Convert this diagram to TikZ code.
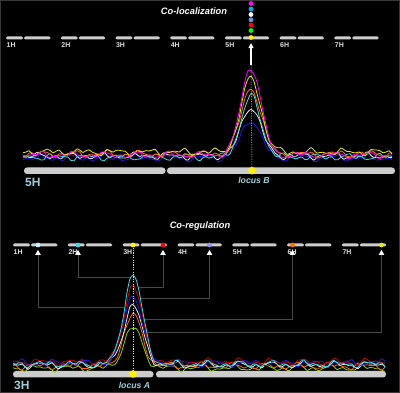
\documentclass[tikz,border=0pt]{standalone}
\usepackage{fontspec}
\setmainfont{Liberation Sans}
\usepackage{tikz}
\usetikzlibrary{shapes.geometric, arrows.meta, positioning, calc}
\definecolor{framegray}{RGB}{55,55,55}
\definecolor{chromgray}{RGB}{205,205,205}
\definecolor{locuscyan}{RGB}{160,205,215}
\definecolor{linkgray}{RGB}{72,72,72}
\definecolor{trmagenta}{RGB}{255,0,255}
\definecolor{tryellow}{RGB}{225,235,20}
\definecolor{trorange}{RGB}{255,110,0}
\definecolor{trcyan}{RGB}{60,220,230}
\definecolor{trwhite}{RGB}{235,235,235}
\definecolor{trblue}{RGB}{40,20,235}
\definecolor{trred}{RGB}{200,0,0}
\definecolor{trgreen}{RGB}{140,210,0}
\definecolor{dotblue}{RGB}{100,150,240}
\definecolor{dotlav}{RGB}{145,145,245}
\definecolor{dotpale}{RGB}{195,240,255}

\begin{document}
\begin{tikzpicture}[x=1pt, y=-1pt,
    chrom/.style={fill=chromgray, rounded corners=1.4pt},
    bigchrom/.style={fill=chromgray, rounded corners=3pt},
    trace/.style={line width=0.8pt, smooth, tension=0.5},
    dot/.style={circle, inner sep=0pt, minimum size=4.8pt},
    locus/.style={circle, inner sep=0pt, minimum size=7.5pt, fill=yellow},
    tri/.style={regular polygon, regular polygon sides=3, fill=white, inner sep=0pt, minimum size=6.5pt},
    link/.style={draw=linkgray, line width=0.8pt},
    guide/.style={white!85!black, line width=0.5pt, dash pattern=on 1.2pt off 1.2pt},
    chromlabel/.style={font=\bfseries\fontsize{7}{8}\selectfont, text=white!87!black, anchor=north west, inner sep=0pt},
    biglabel/.style={font=\bfseries\fontsize{12}{14}\selectfont, text=locuscyan, anchor=north west, inner sep=0pt},
    locuslabel/.style={font=\bfseries\itshape\fontsize{8.7}{10}\selectfont, text=locuscyan, anchor=north, inner sep=0pt},
    title/.style={font=\bfseries\itshape\fontsize{9.3}{11}\selectfont, text=white}
]

    % 1. BACKGROUND
    \useasboundingbox (0,0) rectangle (400,393);
    \draw[framegray, fill=black, line width=1pt] (0.5,0.5) rectangle (399.5,392.5);
    \pgfmathsetseed{11}

    % 2. CO-LOCALIZATION (top half)
    \node[title] (titleA) at (194,11.5) {Co-localization};

    \foreach \i in {1,...,7} {
        \pgfmathsetmacro{\xs}{6+(\i-1)*54.7}
        \fill[chrom] (\xs,36.5) rectangle ++(17,3);
        \fill[chrom] (\xs+18,36.5) rectangle ++(26.5,3);
        \node[chromlabel] (top\i) at (\xs+0.5,42) {\i H};
    }

    \fill[bigchrom] (24,167.5) rectangle (165.5,174);
    \fill[bigchrom] (167,167.5) rectangle (395,174);
    \node[biglabel] (chrB) at (25,178) {5H};

    % wobbly baseline = three sines with random phases, plus the peak
    \foreach \col/\base/\hgt in {trblue/158/38, trwhite/156/49, trcyan/157/60, trorange/154/66, tryellow/152/74, trmagenta/155/88} {
        \pgfmathsetmacro{\pa}{360*rnd}
        \pgfmathsetmacro{\pb}{360*rnd}
        \pgfmathsetmacro{\pc}{360*rnd}
        \draw[\col, trace] plot[domain=23:392, samples=124]
            (\x, {\base + 2*sin(11*(\x-200)+\pa) + 1.5*sin(23*(\x-200)+\pb) + 1*sin(37*(\x-200)+\pc)
                  - \hgt*exp(max(-12, -((\x-251)/14)*((\x-251)/14)))});
    }

    \coordinate (peakB) at (251,65);
    \node[locus] (locB) at (252,170.7) {};
    \draw[guide] (peakB) -- (locB);
    \node[locuslabel] (labB) at (254,177) {locus B};

    \foreach \name/\col/\y in {dM/trmagenta/3.5, dC/cyan/9, dW/white/14.5, dB/dotblue/19.8, dR/red/25, dG/green/30.5, dY/yellow/37.5} {
        \node[dot, fill=\col] (\name) at (251,\y) {};
    }
    \draw[white, line width=1.1pt, -{Triangle[width=5pt, length=5pt]}, shorten >=3pt] (peakB) -- (dY);

    % 3. CO-REGULATION (bottom half)
    \node[title] (titleB) at (200,226.5) {Co-regulation};

    \foreach \i in {1,...,7} {
        \pgfmathsetmacro{\xs}{13+(\i-1)*54.8}
        \fill[chrom] (\xs,243.5) rectangle ++(17,3);
        \fill[chrom] (\xs+18,243.5) rectangle ++(26.5,3);
        \node[chromlabel] (bot\i) at (\xs+0.5,249.5) {\i H};
    }

    \fill[bigchrom] (13,371) rectangle (153.5,377.5);
    \fill[bigchrom] (156,371) rectangle (386,377.5);
    \node[biglabel] (chrA) at (14,380.5) {3H};

    % target ends on the outer (cyan) peak
    \foreach \name/\side/\y in {e1/-1/307, e2/-1/277, e3/1/287, e4/1/298, e6/1/319, e7/1/332} {
        \coordinate (\name) at ({133+\side*13*sqrt(ln(89/(364-\y)))}, \y);
    }

    \foreach \name/\col/\x in {g1/dotpale/38, g2/trcyan/78, g3/red/163, g4/dotlav/209.5, g6/trorange/292.5, g7/tryellow/381.5} {
        \node[dot, fill=\col] (\name) at (\x,245) {};
        \node[tri] (t\name) at (\x,253.2) {};
    }
    \node[dot, fill=yellow] (gY) at (133,245) {};

    \draw[link] (tg1.south) |- (e1);
    \draw[link] (tg2.south) |- (e2);
    \draw[link] (tg3.south) |- (e3);
    \draw[link] (tg4.south) |- (e4);
    \draw[link] (tg6.south) |- (e6);
    \draw[link] (tg7.south) |- (e7);

    \foreach \col/\base/\hgt in {trgreen/368/40, trorange/366/51, trwhite/365/60, trblue/363/68, trred/362/76, trcyan/364/89} {
        \pgfmathsetmacro{\pa}{360*rnd}
        \pgfmathsetmacro{\pb}{360*rnd}
        \pgfmathsetmacro{\pc}{360*rnd}
        \draw[\col, trace] plot[domain=13:385, samples=125]
            (\x, {\base + 2*sin(11*(\x-200)+\pa) + 1.5*sin(23*(\x-200)+\pb) + 1*sin(37*(\x-200)+\pc)
                  - \hgt*exp(max(-12, -((\x-133)/13)*((\x-133)/13)))});
    }

    \node[locus] (locA) at (133,374) {};
    \draw[guide] (gY) -- (locA);
    \node[locuslabel] (labA) at (134.5,381.5) {locus A};

\end{tikzpicture}
\end{document}
